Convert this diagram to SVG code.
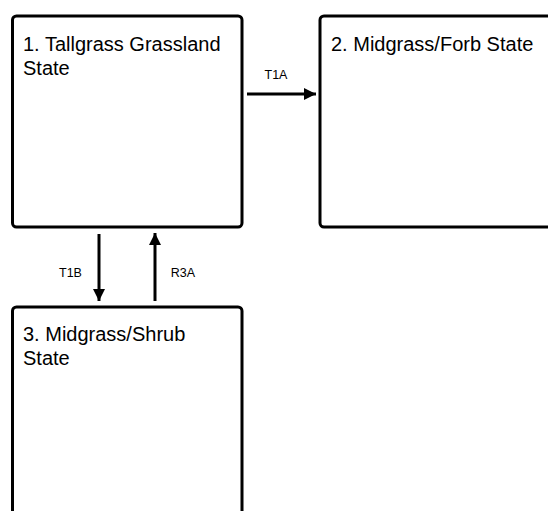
<svg xmlns="http://www.w3.org/2000/svg" width="548" height="511" viewBox="0 0 548 511">
<defs>
<marker id="ah" viewBox="0 0 10 10" refX="10" refY="5" markerWidth="4" markerHeight="4.2" markerUnits="strokeWidth" orient="auto">
<path d="M0,0 L10,5 L0,10 z" fill="#000"/>
</marker>
<style>
.box{fill:#fff;stroke:#000;stroke-width:3}
.t{font-family:"Liberation Sans",Arial,sans-serif;font-size:20px;fill:#000}
.l{font-family:"Liberation Sans",Arial,sans-serif;font-size:12.5px;fill:#000;text-anchor:middle}
.c{stroke:#000;stroke-width:3;fill:none;marker-end:url(#ah)}
</style>
</defs>
<rect width="548" height="511" fill="#fff"/>
<g id="state1">
<rect class="box" x="12.5" y="16" width="229.5" height="211" rx="4"/>
<text class="t" x="23" y="50.5">1. Tallgrass Grassland</text>
<text class="t" x="23" y="74.5">State</text>
</g>
<g id="state2">
<rect class="box" x="320" y="16" width="240" height="211" rx="4"/>
<text class="t" x="331" y="50.5">2. Midgrass/Forb State</text>
</g>
<g id="state3">
<rect class="box" x="12.5" y="307" width="229.5" height="260" rx="4"/>
<text class="t" x="23" y="340.5">3. Midgrass/Shrub</text>
<text class="t" x="23" y="364.5">State</text>
</g>
<g id="connectors">
<line class="c" x1="247" y1="94" x2="316" y2="94"/>
<text class="l" x="276" y="79">T1A</text>
<line class="c" x1="99" y1="234" x2="99" y2="301"/>
<text class="l" x="70.5" y="277">T1B</text>
<line class="c" x1="155" y1="301" x2="155" y2="233"/>
<text class="l" x="183" y="277">R3A</text>
</g>
</svg>
